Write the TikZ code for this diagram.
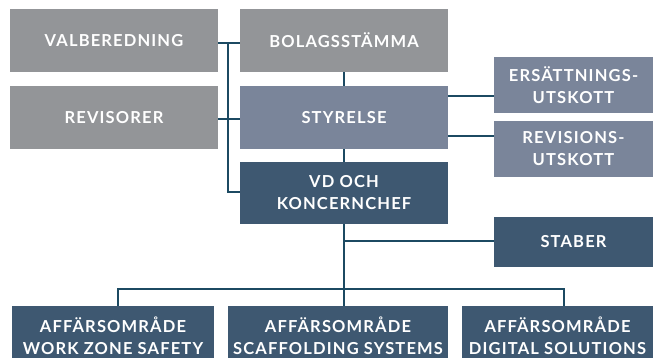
\documentclass[tikz,border=0pt]{standalone}
\usepackage{fontspec}
\setmainfont{Lato}[UprightFont=* Bold, LetterSpace=7]
\definecolor{grabox}{HTML}{939598}
\definecolor{ljusbox}{HTML}{7A859A}
\definecolor{morkbox}{HTML}{3E5871}
\definecolor{linje}{HTML}{1C4A62}
\tikzset{
  ruta/.style={fill=#1, text=white, inner sep=0pt, align=center,
    font=\fontsize{16.5}{22}\selectfont},
  linjer/.style={draw=linje, line width=2pt},
}
\begin{document}
\begin{tikzpicture}[x=1pt,y=-1pt]
  \useasboundingbox (0,0) rectangle (653,358);

  % vänster kolumn
  \node[ruta=grabox, minimum width=208pt, minimum height=63pt] (val) at (114,40.5) {VALBEREDNING};
  \node[ruta=grabox, minimum width=208pt, minimum height=63pt] (rev) at (114,117.5) {REVISORER};

  % mitten
  \node[ruta=grabox, minimum width=208pt, minimum height=63pt] (bol) at (344,40.5) {BOLAGSSTÄMMA};
  \node[ruta=ljusbox, minimum width=208pt, minimum height=63pt] (sty) at (344,117.5) {STYRELSE};
  \node[ruta=morkbox, minimum width=208pt, minimum height=62pt] (vd) at (344,193) {VD OCH\\KONCERNCHEF};

  % höger kolumn
  \node[ruta=ljusbox, minimum width=159pt, minimum height=56pt] (ers) at (573.5,85) {ERSÄTTNINGS-\\UTSKOTT};
  \node[ruta=ljusbox, minimum width=159pt, minimum height=56pt] (revu) at (573.5,149) {REVISIONS-\\UTSKOTT};
  \node[ruta=morkbox, minimum width=159pt, minimum height=50pt] (stab) at (573.5,242) {STABER};

  % affärsområden
  \node[ruta=morkbox, minimum width=202pt, minimum height=60pt] (ba1) at (113,336) {AFFÄRSOMRÅDE\\WORK ZONE SAFETY};
  \node[ruta=morkbox, minimum width=220pt, minimum height=60pt] (ba2) at (338,336) {AFFÄRSOMRÅDE\\SCAFFOLDING SYSTEMS};
  \node[ruta=morkbox, minimum width=191pt, minimum height=60pt] (ba3) at (557.5,336) {AFFÄRSOMRÅDE\\DIGITAL SOLUTIONS};

  % linjer
  \coordinate (buss) at (228,0);
  \coordinate (gren) at (344,289);
  \draw[linjer] ([yshift=-2.5pt]val.east) -- ([yshift=-2.5pt]val.east -| bol.west);
  \draw[linjer] ([yshift=-1.5pt]rev.east) -- ([yshift=-1.5pt]rev.east -| sty.west);
  \draw[linjer] ([yshift=-2.5pt]val.east -| buss) |- ([yshift=1pt]vd.west);
  \draw[linjer] (bol.south) -- (sty.north);
  \draw[linjer] (sty.south) -- (vd.north);
  \draw[linjer] ([yshift=21pt]sty.east) -- ([yshift=21pt]sty.east -| ers.west);
  \draw[linjer] ([yshift=-19pt]sty.east) -- ([yshift=-19pt]sty.east -| revu.west);
  \draw[linjer] (vd.south) -- (vd.south |- ba2.north);
  \draw[linjer] ([yshift=1pt]vd.south |- stab.west) -- ([yshift=1pt]stab.west);
  \draw[linjer] ([xshift=5pt]ba1.north) |- (gren) -| ([xshift=6pt]ba3.north);
\end{tikzpicture}
\end{document}
